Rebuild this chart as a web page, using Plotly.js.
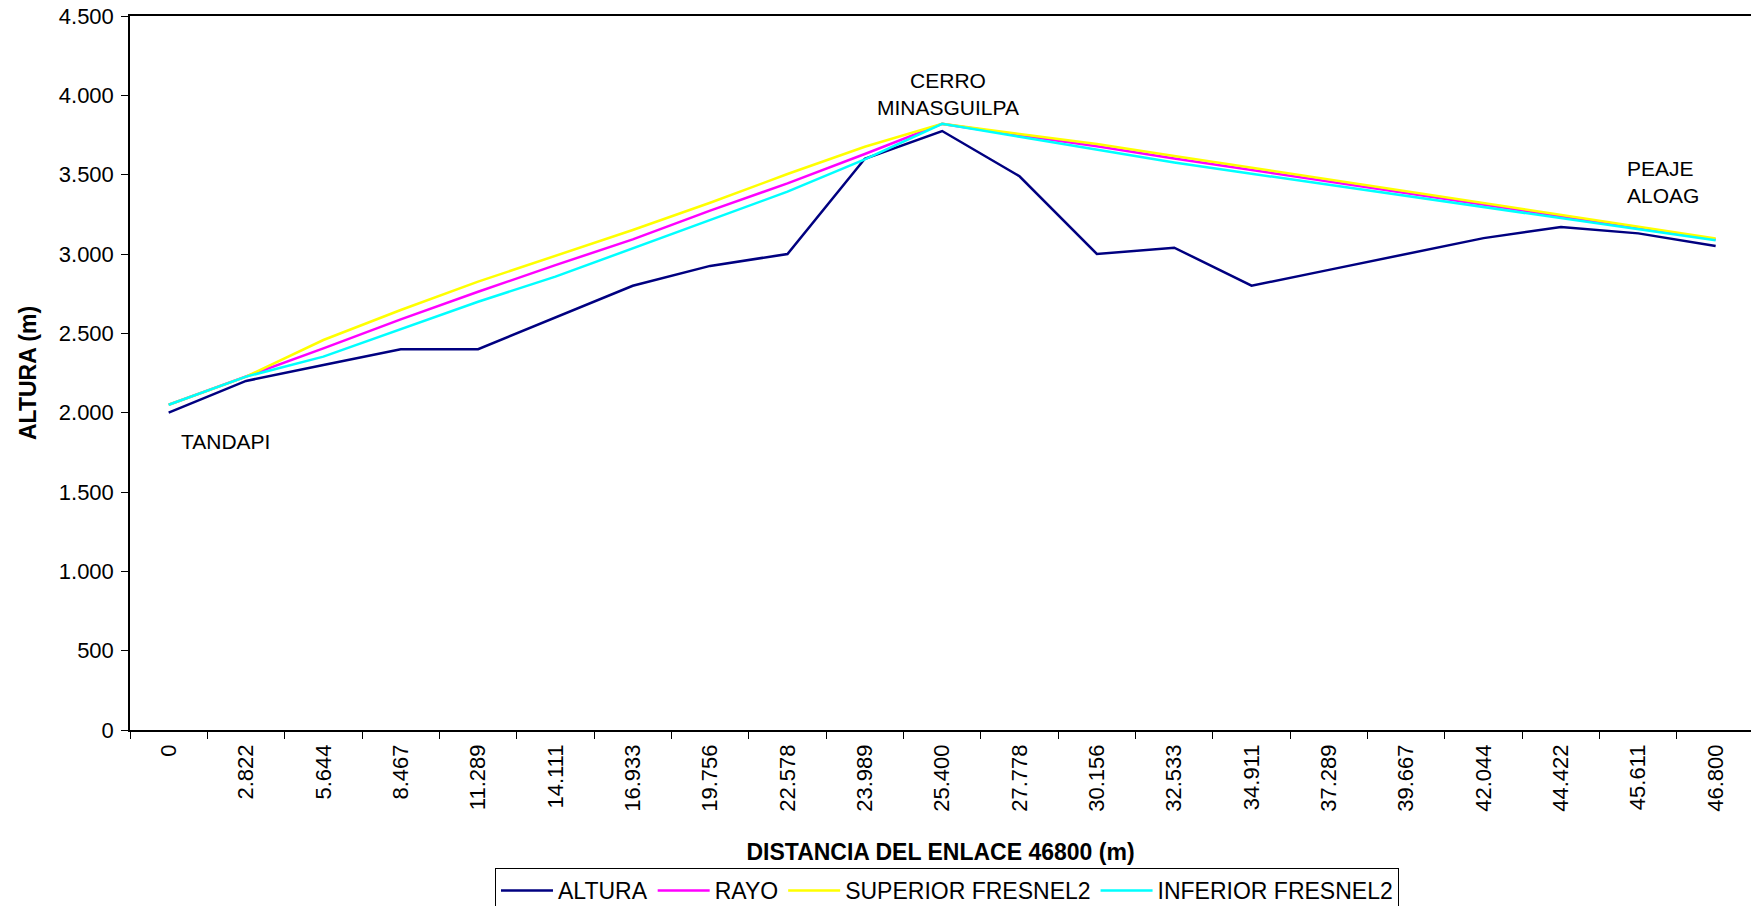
<!DOCTYPE html>
<html>
<head>
<meta charset="utf-8">
<script src="https://cdn.plot.ly/plotly-3.0.1.min.js"></script>
<style>
  html, body { margin: 0; padding: 0; background: #fff; }
  #chart { width: 1751px; height: 906px; }
</style>
</head>
<body>
<div id="chart"></div>
<script>
// Categories (distance along the link, as printed on the axis)
const categories = ['0', '2.822', '5.644', '8.467', '11.289', '14.111', '16.933', '19.756', '22.578', '23.989',
  '25.400', '27.778', '30.156', '32.533', '34.911', '37.289', '39.667', '42.044', '44.422', '45.611', '46.800'];

// Series values (m)
const altura = [2000, 2200, 2300, 2400, 2400, 2600, 2800, 2925, 3000, 3600,
  3775, 3490, 3000, 3040, 2800, 2900, 3000, 3100, 3170, 3130, 3050];
const rayo = [2050, 2227, 2405, 2588, 2762, 2930, 3092, 3273, 3445, 3630,
  3820, 3749, 3679, 3602, 3529, 3456, 3383, 3311, 3238, 3165, 3092];
const superiorFresnel2 = [2050, 2227, 2458, 2647, 2826, 2988, 3151, 3323, 3504, 3676,
  3820, 3757, 3694, 3618, 3544, 3469, 3395, 3321, 3247, 3173, 3098];
const inferiorFresnel2 = [2050, 2227, 2353, 2525, 2699, 2857, 3036, 3214, 3393, 3597,
  3820, 3739, 3658, 3577, 3506, 3436, 3366, 3295, 3225, 3155, 3086];

// Y tick labels
const yTickVals = [0, 500, 1000, 1500, 2000, 2500, 3000, 3500, 4000, 4500];
const yTickText = ['0', '500', '1.000', '1.500', '2.000', '2.500', '3.000', '3.500', '4.000', '4.500'];

const FONT = 'Liberation Sans, Arial, sans-serif';

function line(name, y, color, width) {
  return {
    type: 'scatter', mode: 'lines', name: name,
    x: categories, y: y,
    line: { color: color, width: width },
    hoverinfo: 'x+y+name'
  };
}

const data = [
  line('ALTURA', altura, '#000080', 2.5),
  line('RAYO', rayo, '#FF00FF', 2.5),
  line('SUPERIOR FRESNEL2', superiorFresnel2, '#FFFF00', 2.5),
  line('INFERIOR FRESNEL2', inferiorFresnel2, '#00FFFF', 2.5)
];

const layout = {
  width: 1751, height: 906, autosize: false,
  margin: { l: 130, r: 0, t: 16, b: 176, pad: 0 },
  paper_bgcolor: '#fff', plot_bgcolor: '#fff',
  font: { family: FONT, color: '#000', size: 22 },
  showlegend: true,
  legend: {
    orientation: 'h',
    xref: 'paper', x: 0.504, xanchor: 'center',
    yref: 'container', y: 0.0419, yanchor: 'top',
    bordercolor: '#000', borderwidth: 1, bgcolor: '#fff',
    itemwidth: 52,
    font: { family: FONT, size: 23, color: '#000' },
    traceorder: 'normal'
  },
  xaxis: {
    type: 'category',
    categoryorder: 'array', categoryarray: categories,
    range: [-0.5, 20.457],
    showgrid: false, zeroline: false,
    showline: true, linecolor: '#000', linewidth: 1.5, mirror: true,
    ticks: 'outside', ticklen: 7, tickcolor: '#000', tickwidth: 1,
    tickson: 'boundaries',
    tickangle: -90,
    ticklabelstandoff: 4,
    tickfont: { family: FONT, size: 22, color: '#000' },
    title: { text: '<b>DISTANCIA DEL ENLACE 46800 (m)</b>', font: { family: FONT, size: 23, color: '#000' }, standoff: 33 },
    automargin: false
  },
  yaxis: {
    range: [0, 4500],
    tickmode: 'array', tickvals: yTickVals, ticktext: yTickText,
    showgrid: false, zeroline: false,
    showline: true, linecolor: '#000', linewidth: 1.5,
    ticks: 'outside', ticklen: 7, tickcolor: '#000', tickwidth: 1,
    ticklabelstandoff: 3,
    tickfont: { family: FONT, size: 22, color: '#000' },
    title: { text: '<b>ALTURA (m)</b>', font: { family: FONT, size: 23, color: '#000' }, standoff: 16 },
    automargin: false
  },
  annotations: [
    { xref: 'x', yref: 'y', x: 0.74, y: 1821, text: 'TANDAPI', showarrow: false,
      xanchor: 'center', yanchor: 'middle', font: { family: FONT, size: 21, color: '#000' } },
    { xref: 'x', yref: 'y', x: 10.08, y: 4009, text: 'CERRO<br>MINASGUILPA', showarrow: false, align: 'center',
      xanchor: 'center', yanchor: 'middle', font: { family: FONT, size: 21, color: '#000' } },
    { xref: 'x', yref: 'y', x: 18.83, y: 3452, text: 'PEAJE<br>ALOAG', showarrow: false, align: 'left',
      xanchor: 'left', yanchor: 'middle', font: { family: FONT, size: 21, color: '#000' } }
  ]
};

Plotly.newPlot('chart', data, layout, { displayModeBar: false, responsive: false });
</script>
</body>
</html>
